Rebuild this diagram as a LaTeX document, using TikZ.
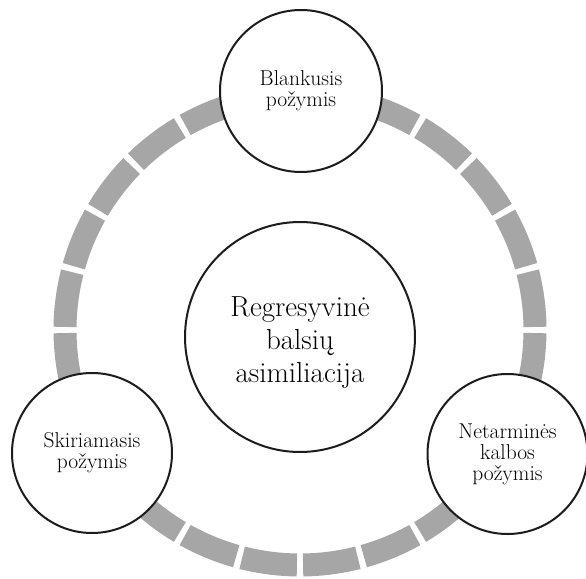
\documentclass[tikz,border=0pt]{standalone}
\usepackage{fontspec}
\definecolor{ringgray}{RGB}{166,166,166}
\definecolor{edgeblack}{RGB}{28,28,28}
\begin{document}
\begin{tikzpicture}[x=1pt,y=-1pt,
  sat/.style={circle,draw=edgeblack,line width=2pt,fill=white,minimum size=160pt,inner sep=0pt,align=center,font=\fontsize{21.5}{21}\selectfont},
  hub/.style={circle,draw=edgeblack,line width=2pt,fill=white,minimum size=230pt,inner sep=0pt},
  hubtext/.style={align=center,inner sep=0pt,font=\fontsize{29}{33}\selectfont},
  ringseg/.style={draw=ringgray,line width=23pt,line cap=butt}]
\useasboundingbox (0,0) rectangle (586,578);
\foreach \k in {0,...,23}{
  \pgfmathsetmacro{\sa}{\k*15+0.75}
  \pgfmathsetmacro{\ea}{\k*15+14.25}
  \draw[ringseg] (300,330) ++(\sa:235) arc[start angle=\sa, end angle=\ea, radius=235];
}
\node[hub] (hub) at (300,337) {};
\node[hubtext] (hubtext) at (300,343) {Regresyvinė\\balsių\\asimiliacija};
\node[sat,minimum size=162pt] (top) at (301,91) {Blankusis\\požymis};
\node[sat] (left) at (92,453) {Skiriamasis\\požymis};
\node[sat] (right) at (507.5,454) {Netarminės\\kalbos\\požymis};
\end{tikzpicture}
\end{document}
